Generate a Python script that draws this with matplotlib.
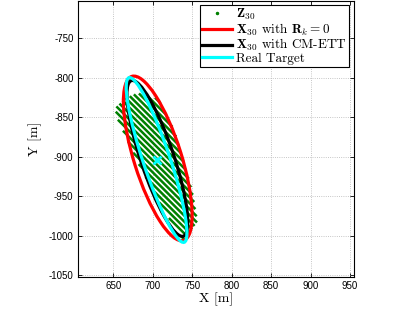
import matplotlib
matplotlib.use("Agg")
import matplotlib.pyplot as plt
from matplotlib.patches import Ellipse
from matplotlib.lines import Line2D

plt.rcParams['mathtext.fontset'] = 'cm'
plt.rcParams['font.family'] = 'Liberation Sans'
plt.rcParams['axes.unicode_minus'] = False

# Z_30 measurements: so dense they form diagonal stripes, kept as stripe ends
stripe_x0 = [703.0, 692.8, 682.7, 676.3, 671.1, 666.0, 661.9, 658.0, 654.1, 653.3,
             656.0, 662.4, 668.9, 675.3, 682.3, 690.9, 699.4, 708.0, 720.6, 736.8]
stripe_y0 = [-825.0, -822.3, -819.7, -820.8, -823.1, -825.5, -828.9, -832.5, -836.1, -842.8,
             -853.0, -867.0, -880.9, -894.8, -909.3, -925.4, -941.4, -957.5, -977.6, -1001.3]
stripe_x1 = [710.0, 717.5, 725.0, 729.9, 733.1, 736.3, 739.4, 742.6, 745.8, 748.9,
             751.1, 752.7, 754.2, 755.8, 756.2, 753.1, 749.9, 746.8, 743.7, 740.6]
stripe_y1 = [-832.0, -847.0, -862.0, -874.4, -885.1, -895.8, -906.4, -917.1, -927.8, -938.4,
             -948.1, -957.2, -966.2, -975.3, -983.2, -987.6, -992.0, -996.3, -1000.7, -1005.1]

# extent ellipses: R_k = 0, CM-ETT, real target
ell_cx = [706.5, 706, 705]
ell_cy = [-902, -902, -904]
ell_a = [109, 104, 110]
ell_b = [30, 21, 17]
ell_angle = [-72.5, -71.5, -71.5]
ell_colors = ['red', 'black', 'cyan']

target_x = [705]
target_y = [-904]

labels = [r'$\mathbf{Z}_{30}$',
          r'$\mathbf{X}_{30}$ with $\mathbf{R}_k = \mathbf{0}$',
          r'$\mathbf{X}_{30}$ with CM-ETT',
          'Real Target']

xticks = [650, 700, 750, 800, 850, 900, 950]
yticks = [-1050, -1000, -950, -900, -850, -800, -750]

fig = plt.figure(figsize=(4.15, 3.12), dpi=100)
ax = fig.add_axes([0.187, 0.113, 0.666, 0.885])

for i in range(len(stripe_x0)):
    ax.plot([stripe_x0[i], stripe_x1[i]], [stripe_y0[i], stripe_y1[i]],
            color='green', lw=1.8, solid_capstyle='butt', zorder=2)

for i in range(len(ell_cx)):
    e = Ellipse((ell_cx[i], ell_cy[i]), 2 * ell_a[i], 2 * ell_b[i], angle=ell_angle[i],
                fill=False, edgecolor=ell_colors[i], lw=2.3, zorder=3 + i)
    ax.add_patch(e)

ax.plot(target_x, target_y, 'x', color='cyan', ms=6, mew=2, zorder=7)

ax.set_xlim(605, 955)
ax.set_ylim(-1052, -702)
ax.set_xticks(xticks)
ax.set_yticks(yticks)
ax.tick_params(direction='in', top=True, right=True, length=3, width=0.6, labelsize=7, pad=3)
ax.grid(True, linestyle=':', color='0.7', lw=0.6)
for s in ax.spines.values():
    s.set_linewidth(0.8)

ax.set_xlabel('X [m]', family='cmr10', fontsize=10, labelpad=1)
ax.set_ylabel('Y [m]', family='cmr10', fontsize=10, labelpad=5)

handles = [Line2D([], [], marker='.', ms=3, color='green', ls='none'),
           Line2D([], [], color='red', lw=2.3),
           Line2D([], [], color='black', lw=2.3),
           Line2D([], [], color='cyan', lw=2.3)]
leg = ax.legend(handles, labels, loc='upper right', bbox_to_anchor=(0.982, 0.984),
                borderaxespad=0, prop={'family': 'cmr10', 'size': 9.5}, fancybox=False,
                edgecolor='black', framealpha=1, handlelength=2.3, handletextpad=0.3,
                labelspacing=-0.05, borderpad=0.15)
leg.get_frame().set_linewidth(0.8)

fig.savefig('out.png', dpi=100)
